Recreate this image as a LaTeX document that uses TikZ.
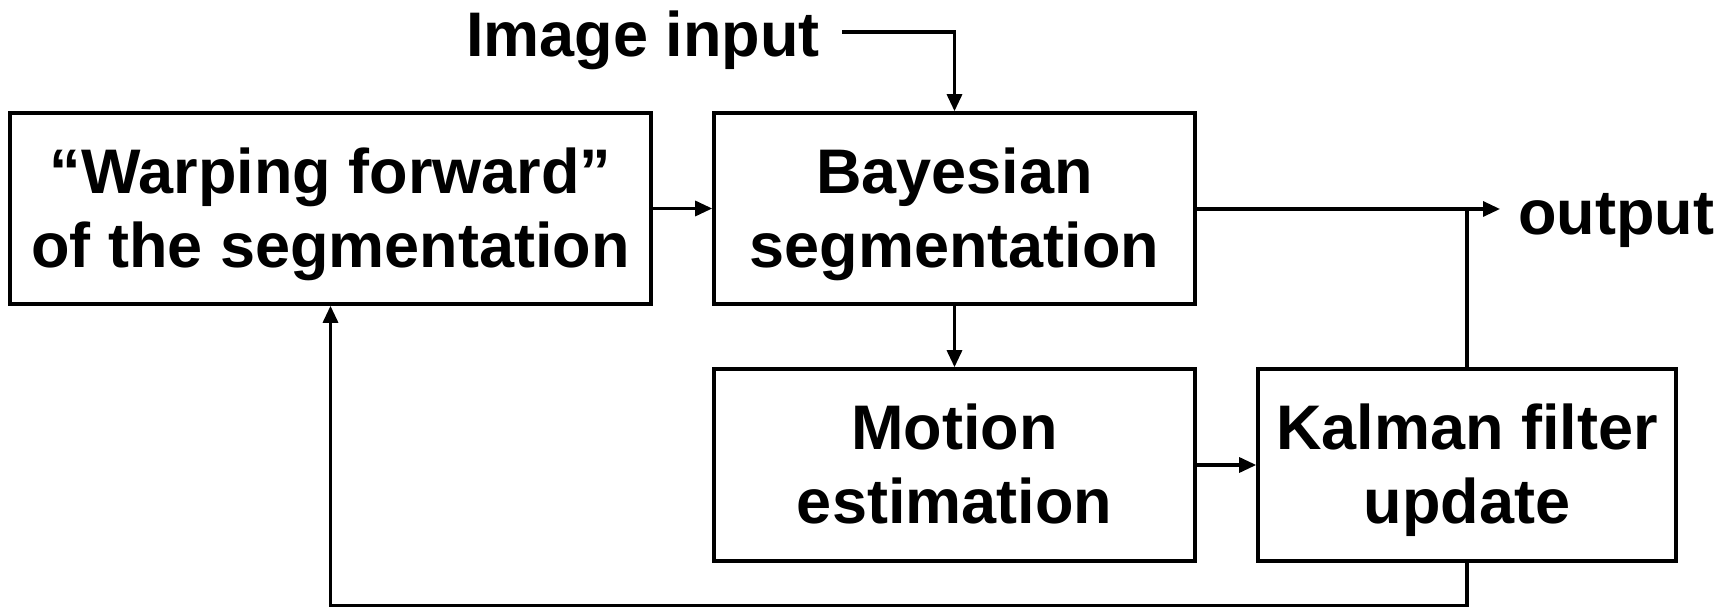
\documentclass[tikz,border=0pt]{standalone}
\usepackage{fontspec}
\setmainfont{Liberation Sans}
\usetikzlibrary{arrows.meta}
% line strut with the font's full ascent and descent
\newcommand\lnstrut{\rule[-0.212em]{0pt}{1.117em}}

\begin{document}
\begin{tikzpicture}[x=0.5pt, y=-0.5pt,
  every node/.style={font=\bfseries\fontsize{31.5}{37}\selectfont},
  block/.style={draw, line width=1.8pt, align=center, inner sep=0pt},
  flow/.style={line width=1.6pt},
  arrow/.style={flow, -{Triangle[length=8.5pt, width=7.5pt]}}]
  \useasboundingbox (0,0) rectangle (1736,608);

  % processing blocks
  \node[block, minimum width=320.5pt, minimum height=95.5pt] (warp) at (330.5,208.5)
        {\lnstrut“Warping forward”\\\lnstrut of the segmentation};
  \node[block, minimum width=240.5pt, minimum height=95.5pt] (bayes) at (954.5,208.5)
        {\lnstrut Bayesian\\\lnstrut segmentation};
  \node[block, minimum width=240.5pt, minimum height=96pt] (motion) at (954.5,465)
        {\lnstrut Motion\\\lnstrut estimation};
  \node[block, minimum width=209pt, minimum height=96pt] (kalman) at (1467,465)
        {\lnstrut Kalman filter\\\lnstrut update};

  % input and output labels
  \node[anchor=base west, inner sep=0pt] (imgin) at (466,57) {Image input};
  \node[anchor=base west, inner sep=0pt] (out) at (1518,235) {output};
  \coordinate (instart) at (842,32);
  \coordinate (outtip) at (1500,209);
  \coordinate (fbline) at (0,605.5);

  % connectors
  \draw[arrow] (instart) -| (bayes.north);
  \draw[arrow] (warp.east) -- (bayes.west);
  \draw[arrow] (bayes.east |- outtip) -- (outtip);
  \draw[flow] (kalman.north) -- (kalman.north |- outtip);
  \draw[arrow] (bayes.south) -- (motion.north);
  \draw[arrow] (motion.east) -- (kalman.west);
  \draw[arrow] (kalman.south) -- (kalman.south |- fbline) -| (warp.south);
\end{tikzpicture}
\end{document}
